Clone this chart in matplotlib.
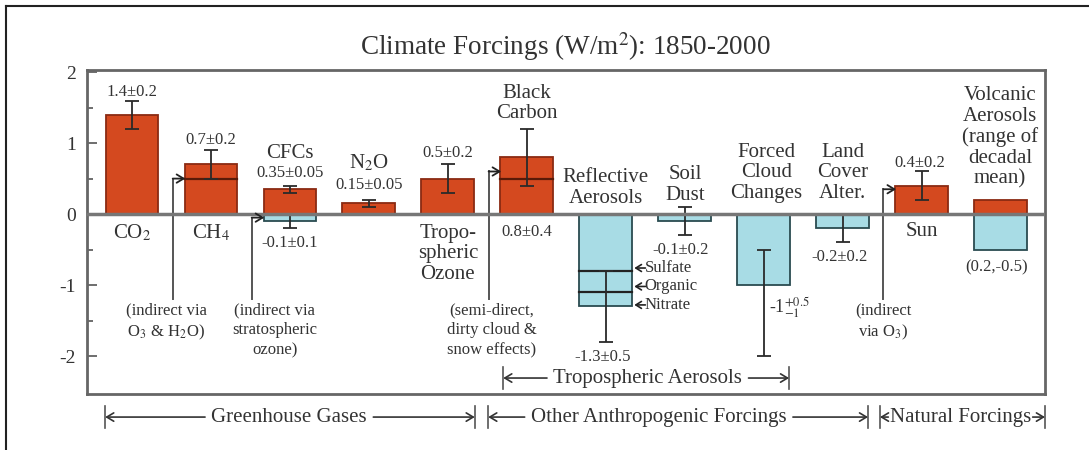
import numpy as np
import matplotlib.pyplot as plt
from matplotlib.lines import Line2D

plt.rcParams['font.family'] = ['Liberation Serif', 'DejaVu Serif']
plt.rcParams['mathtext.fontset'] = 'stix'
plt.rcParams['axes.unicode_minus'] = False

#------------------------ DATA -----------------------------------------
forcings = ['CO2', 'CH4', 'CFCs', 'N2O', 'Tropospheric Ozone', 'Black Carbon',
            'Reflective Aerosols', 'Soil Dust', 'Forced Cloud Changes',
            'Land Cover Alter.', 'Sun', 'Volcanic Aerosols']
warming = [1.4, 0.7, 0.35, 0.15, 0.5, 0.8, 0, 0, 0, 0, 0.4, 0.2]
cooling = [0, 0, -0.1, 0, 0, 0, -1.3, -0.1, -1.0, -0.2, 0, -0.5]

# error bars: bar index, centre, minus, plus
err_idx = [0, 1, 2, 3, 4, 5, 10, 2, 6, 7, 8, 9]
err_mid = [1.4, 0.7, 0.35, 0.15, 0.5, 0.8, 0.4, -0.1, -1.3, -0.1, -1.0, -0.2]
err_lo = [0.2, 0.2, 0.05, 0.05, 0.2, 0.4, 0.2, 0.1, 0.5, 0.2, 1.0, 0.2]
err_hi = [0.2, 0.2, 0.05, 0.05, 0.2, 0.4, 0.2, 0.1, 0.5, 0.2, 0.5, 0.2]

# lines splitting a bar into parts
split_idx = [1, 5, 6, 6]
split_val = [0.5, 0.5, -0.8, -1.1]

# indirect effects (arrow into bar)
ind_idx = [1, 2, 5, 10]
ind_val = [0.5, -0.05, 0.6, 0.35]
ind_notes = ['(indirect via\nO$_3$ & H$_2$O)',
             '(indirect via\nstratospheric\nozone)',
             '(semi-direct,\ndirty cloud &\nsnow effects)',
             '(indirect\nvia O$_3$)']

aerosol_parts = ['Sulfate', 'Organic', 'Nitrate']

red = '#d4491f'
red_edge = '#8a2a12'
blue = '#a8dce5'
blue_edge = '#2a4b50'
txt = '#333333'

#------------------------ FIGURE -----------------------------------------
fig = plt.figure(figsize=(10.89, 4.5), dpi=100)
ax = fig.add_axes([87/1089, 1-394/450, (1045-87)/1089, (394-70)/450])
ax.set_xlim(-0.57, 11.56)
ax.set_ylim(-2.535, 2.03)

x = np.arange(len(forcings))
w = 0.67
up = [i for i in x if warming[i] != 0]
dn = [i for i in x if cooling[i] != 0]
ax.bar(up, [warming[i] for i in up], w, color=red, edgecolor=red_edge, lw=1.3, zorder=2)
ax.bar(dn, [cooling[i] for i in dn], w, color=blue, edgecolor=blue_edge, lw=1.3, zorder=2)

for i, v in zip(split_idx, split_val):
    ax.plot([i - w/2, i + w/2], [v, v], color='#222222' if v < 0 else '#5a1a08', lw=1.6, zorder=3)

ax.errorbar(err_idx, err_mid, yerr=[err_lo, err_hi], fmt='none', ecolor='#2a2a2a',
            elinewidth=1.3, capsize=5, capthick=1.3, zorder=4)

ax.axhline(0, color='#777777', lw=2.5, zorder=5)

# indirect effect lines and arrows
note_dx = [-0.08, 0.29, 0.04, 0.0]
for k, (i, v) in enumerate(zip(ind_idx, ind_val)):
    xl = i - 0.485
    ax.plot([xl, xl], [-1.2, v], color='#555555', lw=1.4, zorder=3)
    ax.annotate('', xy=(i - w/2 + 0.01, v), xytext=(xl, v),
                arrowprops=dict(arrowstyle='->,head_length=0.5,head_width=0.3',
                                color='#222222', lw=1.3, shrinkA=0, shrinkB=0), zorder=6)
    ax.text(xl + note_dx[k], -1.25, ind_notes[k], ha='center', va='top',
            fontsize=12, color=txt, linespacing=1.3)

# names
def lab(xp, yp, s, size=15, **kw):
    ax.text(xp, yp, s, ha='center', va='center', fontsize=size, color=txt,
            linespacing=1.1, **kw)

lab(0, -0.27, 'CO$_2$')
lab(1, -0.27, 'CH$_4$')
lab(2, 0.86, 'CFCs')
lab(3, 0.72, 'N$_2$O')
lab(4, -0.56, 'Tropo-\nspheric\nOzone')
lab(5, 1.56, 'Black\nCarbon')
lab(6, 0.37, 'Reflective\nAerosols')
lab(7.01, 0.41, 'Soil\nDust')
lab(8.03, 0.58, 'Forced\nCloud\nChanges')
lab(9.0, 0.58, 'Land\nCover\nAlter.')
lab(10, -0.25, 'Sun')
lab(10.99, 1.08, 'Volcanic\nAerosols\n(range of\ndecadal\nmean)')

# values
vs = 12
lab(0, 1.72, '1.4±0.2', vs)
lab(1, 1.04, '0.7±0.2', vs)
lab(2, 0.58, '0.35±0.05', vs)
lab(2, -0.41, '-0.1±0.1', vs)
lab(3, 0.41, '0.15±0.05', vs)
lab(4, 0.86, '0.5±0.2', vs)
lab(5, -0.25, '0.8±0.4', vs)
lab(5.96, -2.01, '-1.3±0.5', vs)
lab(6.95, -0.5, '-0.1±0.2', vs)
ax.text(8.07, -1.31, '-1$^{+0.5}_{-1}$', ha='left', va='center', fontsize=13, color=txt)
lab(8.96, -0.61, '-0.2±0.2', vs)
lab(9.97, 0.72, '0.4±0.2', vs)
lab(10.95, -0.75, '(0.2,-0.5)', vs)

# aerosol components
for yv, nm in zip([-0.76, -1.02, -1.28], aerosol_parts):
    ax.annotate('', xy=(6.36, yv), xytext=(6.5, yv),
                arrowprops=dict(arrowstyle='->,head_length=0.4,head_width=0.25',
                                color='#222222', lw=1.2, shrinkA=0, shrinkB=0))
    ax.text(6.49, yv, nm, ha='left', va='center', fontsize=12, color=txt)

# brackets
fig.canvas.draw()
rend = fig.canvas.get_renderer()
def bracket(x0, x1, xt, y, s, size=15, gap=0.08):
    t = ax.text(xt, y, s, ha='center', va='center', fontsize=size, color=txt, clip_on=False)
    bb = t.get_window_extent(renderer=rend).transformed(ax.transData.inverted())
    for xe, xs in [(x0, bb.x0 - gap), (x1, bb.x1 + gap)]:
        ax.annotate('', xy=(xe, y), xytext=(xs, y), annotation_clip=False,
                    arrowprops=dict(arrowstyle='->,head_length=0.5,head_width=0.3',
                                    color='#333333', lw=1.2, shrinkA=0, shrinkB=0))
        ax.plot([xe, xe], [y - 0.16, y + 0.16], color='#555555', lw=1.2, clip_on=False)

bracket(4.70, 8.32, 6.53, -2.31, 'Tropospheric Aerosols')
bracket(-0.34, 4.34, 1.99, -2.86, 'Greenhouse Gases')
bracket(4.51, 9.32, 6.67, -2.86, 'Other Anthropogenic Forcings')
bracket(9.47, 11.56, 10.49, -2.86, 'Natural Forcings', gap=0.02)

# axes style
ax.set_xticks([])
ax.set_yticks([-2, -1, 0, 1, 2])
ax.set_yticks([-1.5, -0.5, 0.5, 1.5], minor=True)
ax.tick_params(axis='y', which='both', direction='in', colors='#555555',
               labelcolor=txt, labelsize=14, width=1.2, pad=8)
ax.tick_params(axis='y', which='major', length=7)
ax.tick_params(axis='y', which='minor', length=4)
for sp in ax.spines.values():
    sp.set_color('#666666')
    sp.set_linewidth(2)

fig.text(565/1089, 1-47/450, 'Climate Forcings (W/m$^2$): 1850-2000', ha='center',
         va='center', fontsize=19.5, color=txt)

# outer frame (top and left only)
fig.add_artist(Line2D([6/1089, 1], [1-5.5/450, 1-5.5/450], color='#222222', lw=1.5))
fig.add_artist(Line2D([6/1089, 6/1089], [0, 1-5.5/450], color='#222222', lw=1.5))

fig.savefig('out.png', dpi=100)
